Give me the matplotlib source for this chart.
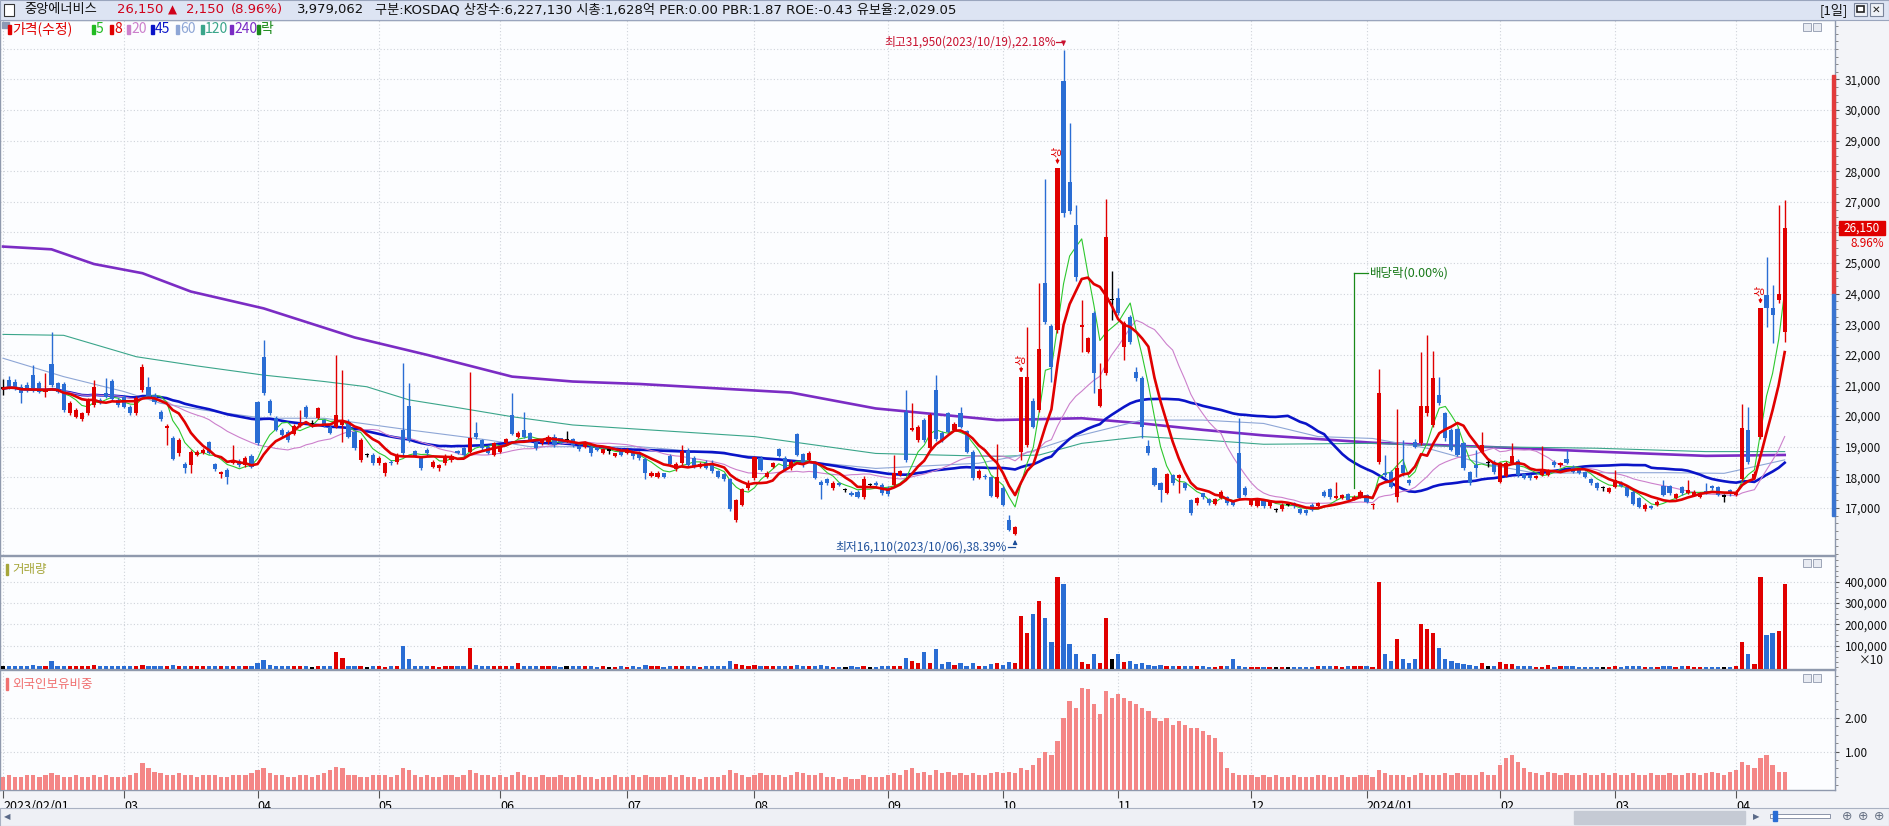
import numpy as np
import pandas as pd
import matplotlib
matplotlib.use("Agg")
import matplotlib.pyplot as plt
import matplotlib.ticker as mticker
from matplotlib.patches import Rectangle

plt.rcParams['font.family'] = ['Noto Sans CJK KR', 'DejaVu Sans']

# daily candles 2023/02/01 .. 2024/04/12
opens = [
    20900, 21180, 21120, 20960, 21020, 21340, 21070, 20800, 21700, 21070,
    21050, 20110, 19980, 19900, 20090, 20360, 20530, 20740, 21160, 20530,
    20640, 20310, 20110, 20850, 20960, 20690, 20150, 19600, 19270, 18780,
    18440, 18400, 18730, 18780, 19160, 18420, 18110, 18240, 18480, 18540,
    18400, 18700, 20470, 21940, 20490, 19930, 19550, 19490, 19420, 19700,
    20310, 19750, 19930, 19870, 19650, 19650, 19710, 19820, 19490, 18570,
    18730, 18730, 18460, 18130, 18510, 18510, 19550, 20330, 18870, 18620,
    18890, 18350, 18290, 18460, 18550, 18860, 18950, 18840, 19460, 19220,
    19000, 18730, 18840, 19130, 20040, 19330, 19550, 19440, 19160, 19110,
    19160, 19330, 19270, 19220, 19240, 19020, 19000, 19000, 19020, 18810,
    18870, 18700, 18890, 18780, 18840, 18780, 18590, 18040, 18020, 18130,
    18680, 18260, 18460, 18870, 18620, 18330, 18480, 18480, 18190, 18110,
    17930, 16600, 17100, 17640, 17970, 18620, 18020, 18350, 18910, 18620,
    18290, 19400, 18760, 18570, 18480, 17860, 17930, 17640, 17800, 17590,
    17500, 17530, 17350, 17750, 17830, 17750, 17640, 17750, 18080, 20150,
    19550, 19220, 19870, 18950, 20850, 19440, 20090, 19550, 20110, 19520,
    18840, 17970, 18040, 18000, 17370, 17640, 16600, 16150, 18840, 19060,
    20500, 20200, 24360, 22950, 22810, 30950, 27660, 26250, 22920, 22110,
    23380, 20330, 21420, 23800, 23850, 22270, 23250, 21450, 21240, 19020,
    18290, 17800, 17500, 18080, 17970, 17800, 17260, 17150, 17480, 17280,
    17130, 17310, 17370, 17200, 18780, 17640, 17100, 17060, 17260, 17060,
    16930, 16950, 17100, 17150, 16950, 16930, 17100, 17060, 17530, 17610,
    17310, 17310, 17450, 17280, 17370, 17420, 17080, 18510, 18130, 18180,
    17370, 18400, 17910, 19170, 19110, 20090, 19710, 20690, 20090, 19550,
    19570, 19110, 18180, 18400, 18840, 18460, 18510, 17860, 18040, 18480,
    18540, 18110, 18080, 17970, 18080, 18080, 18510, 18400, 18590, 18350,
    18290, 18180, 17930, 17800, 17640, 17530, 17690, 17830, 17690, 17530,
    17310, 16950, 17060, 17100, 17720, 17720, 17310, 17670, 17480, 17420,
    17370, 17560, 17720, 17670, 17370, 17590, 17420, 17930, 19550, 17980,
    19330, 23960, 23520, 23790, 22750]
highs = [
    21200, 21300, 21200, 21050, 21100, 21670, 21150, 21400, 22760, 21100,
    21100, 20500, 20250, 20150, 20600, 21180, 20600, 21230, 21200, 20600,
    20700, 20350, 20650, 21700, 21290, 20750, 20200, 19750, 19350, 19300,
    18500, 18900, 18900, 18950, 19200, 18480, 18200, 18300, 19060, 18600,
    18700, 18750, 20500, 22490, 20550, 20000, 19600, 19550, 19750, 20200,
    20350, 19870, 20300, 19900, 19700, 22000, 21510, 19900, 19550, 19300,
    18800, 18780, 18700, 18500, 18550, 18800, 21720, 21070, 18900, 18650,
    18950, 18550, 18450, 18750, 18750, 18900, 19000, 21430, 19800, 19250,
    19050, 19150, 19050, 19300, 20740, 19500, 20120, 19480, 19200, 19250,
    19380, 19400, 19300, 19500, 19300, 19050, 19200, 19050, 19050, 18950,
    18950, 18800, 18950, 18950, 18900, 18850, 18650, 18200, 18200, 18150,
    18750, 18500, 19060, 18950, 18700, 18500, 18550, 18550, 18250, 18150,
    17980, 17300, 17650, 17900, 18700, 18700, 18200, 18500, 18950, 18680,
    18550, 19450, 18800, 18850, 18530, 17900, 17980, 17880, 17850, 17650,
    17550, 17580, 18050, 17800, 17880, 17800, 17700, 18730, 18250, 20850,
    20420, 19700, 19950, 20100, 21340, 19500, 20150, 19800, 20310, 19560,
    18900, 18260, 18100, 18050, 19090, 17700, 16770, 16400, 21290, 22920,
    20600, 24340, 27740, 23000, 28100, 31950, 29570, 26900, 23800, 22600,
    23450, 21730, 27080, 24740, 24180, 23100, 23300, 21620, 21300, 19220,
    18350, 17850, 18150, 18120, 18120, 17850, 17300, 17350, 17500, 17320,
    17320, 17570, 17400, 17250, 19930, 17700, 17300, 17320, 17300, 17250,
    17000, 17150, 17180, 17200, 17000, 16980, 17150, 17200, 17580, 17650,
    17860, 17460, 17500, 17420, 17580, 17460, 17150, 21530, 18730, 18250,
    20220, 19220, 17950, 19250, 22110, 22650, 22130, 21290, 20150, 19600,
    19620, 19150, 18220, 18900, 19490, 18600, 18550, 18500, 18520, 19130,
    18600, 18150, 18100, 18080, 19020, 18260, 18550, 18500, 18890, 18400,
    18330, 18220, 17970, 17850, 17700, 17680, 18240, 17870, 17730, 17580,
    17350, 17150, 17100, 17250, 17910, 17760, 17500, 17720, 17910, 17570,
    17520, 17800, 17760, 17710, 17450, 17630, 17570, 20400, 20310, 18200,
    23540, 25210, 24280, 26900, 27050]
lows = [
    20700, 20900, 20850, 20420, 20800, 20800, 20750, 20630, 20950, 20750,
    20150, 20050, 19950, 19850, 20050, 20300, 20380, 20600, 20500, 20300,
    20250, 20050, 20050, 20800, 20600, 20400, 19850, 19060, 18550, 18700,
    18130, 18130, 18700, 18750, 18750, 18200, 17970, 17780, 18450, 18350,
    18350, 18300, 19050, 20700, 20050, 19500, 19330, 19150, 19380, 19650,
    19950, 19650, 19900, 19650, 19400, 19600, 19160, 19300, 18900, 18500,
    18650, 18400, 18400, 18050, 18400, 18450, 18700, 19150, 18650, 18250,
    18700, 18300, 18200, 18400, 18500, 18750, 18700, 18800, 19250, 18900,
    18750, 18700, 18800, 19100, 19380, 19300, 19300, 19180, 18900, 19050,
    19100, 19000, 19100, 19150, 19000, 18850, 18950, 18700, 18850, 18750,
    18750, 18650, 18700, 18750, 18600, 18580, 17930, 18000, 17980, 17980,
    18400, 18200, 18400, 18350, 18300, 18300, 18280, 18150, 17980, 17880,
    16900, 16550, 17050, 17600, 17900, 18200, 17980, 18300, 18650, 18200,
    18250, 18700, 18350, 18500, 17950, 17280, 17750, 17600, 17700, 17530,
    17380, 17330, 17300, 17680, 17700, 17430, 17400, 17700, 18050, 18500,
    19500, 19150, 19150, 18900, 19200, 19150, 19450, 19500, 19600, 18800,
    17900, 17930, 17950, 17350, 17330, 17050, 16230, 16110, 18570, 19000,
    19600, 20150, 23000, 21130, 22700, 26500, 26600, 24400, 22110, 22050,
    20740, 20300, 21350, 23140, 23300, 21830, 22350, 21150, 19270, 18730,
    17700, 17200, 17450, 17750, 17480, 17600, 16780, 17100, 17300, 17100,
    17100, 17280, 17100, 17050, 17250, 17380, 17050, 17020, 17000, 17000,
    16850, 16900, 17050, 17000, 16800, 16780, 16900, 17020, 17350, 17300,
    17280, 17280, 17220, 17250, 17330, 17150, 16950, 18450, 18000, 17650,
    17180, 18050, 17750, 18950, 19050, 20000, 19650, 20350, 19200, 18850,
    18700, 18250, 17750, 18000, 18800, 18350, 18100, 17800, 18000, 18450,
    18000, 17930, 17920, 17930, 18050, 18050, 18350, 18350, 18420, 18150,
    18100, 17980, 17750, 17600, 17550, 17500, 17650, 17680, 17350, 17080,
    17000, 16900, 16950, 17050, 17380, 17430, 17280, 17430, 17450, 17380,
    17330, 17450, 17600, 17380, 17200, 17400, 17380, 17880, 18450, 17950,
    19250, 22900, 22380, 23700, 22430]
closes = [
    20900, 20960, 20910, 20740, 20850, 20850, 20800, 20850, 21020, 20800,
    20200, 20440, 20200, 20110, 20550, 20960, 20420, 20630, 20550, 20360,
    20310, 20110, 20580, 21620, 20640, 20470, 19900, 19680, 18590, 19220,
    18290, 18840, 18820, 18890, 18780, 18260, 18160, 18000, 18570, 18400,
    18620, 18350, 19110, 20740, 20090, 19550, 19380, 19220, 19680, 19790,
    19980, 19750, 20250, 19710, 19440, 20040, 19820, 19330, 18950, 19220,
    18730, 18460, 18620, 18460, 18460, 18730, 18780, 19220, 18700, 18290,
    18780, 18510, 18400, 18680, 18700, 18780, 18730, 19270, 19310, 18950,
    18780, 19110, 19000, 19240, 19420, 19460, 19330, 19220, 18950, 19220,
    19330, 19060, 19160, 19220, 19060, 18910, 19130, 18780, 18890, 18910,
    18870, 18780, 18730, 18890, 18680, 18620, 18130, 18150, 18150, 18020,
    18440, 18440, 18870, 18400, 18370, 18440, 18320, 18220, 18020, 17930,
    16950, 17260, 17610, 17830, 18650, 18240, 18150, 18460, 18700, 18240,
    18510, 18730, 18400, 18810, 17990, 17750, 17800, 17830, 17750, 17590,
    17420, 17370, 17930, 17750, 17750, 17480, 17460, 18150, 18190, 18570,
    19600, 19660, 19220, 20040, 19240, 19220, 19490, 19740, 19630, 18840,
    17970, 18220, 18000, 17390, 18000, 17100, 16280, 16380, 21290, 21270,
    19660, 22180, 23090, 21620, 28100, 26630, 26710, 24540, 22980, 22540,
    21400, 20880, 25840, 23800, 23380, 23030, 22430, 21240, 19660, 18780,
    17750, 17590, 18110, 17800, 18080, 17640, 16820, 17310, 17350, 17150,
    17280, 17530, 17150, 17100, 17310, 17420, 17260, 17280, 17060, 17200,
    16930, 17100, 17100, 17050, 16840, 16820, 16930, 17150, 17390, 17350,
    17400, 17420, 17260, 17370, 17530, 17200, 17100, 20740, 18080, 17690,
    18290, 18130, 17800, 19000, 20330, 20330, 21230, 20420, 19270, 18890,
    18730, 18290, 17800, 18300, 19060, 18460, 18180, 18460, 18480, 18700,
    18080, 17970, 17970, 18040, 18220, 18220, 18400, 18460, 18460, 18180,
    18130, 18020, 17800, 17640, 17640, 17640, 17910, 17720, 17390, 17130,
    17040, 17100, 16990, 17200, 17420, 17480, 17460, 17480, 17590, 17530,
    17480, 17500, 17640, 17420, 17370, 17450, 17530, 19600, 18510, 18110,
    23540, 23520, 23300, 24000, 26150]

# volume in the panel's own units (axis is x10), thousands
volume_k = [
    8, 5, 6, 4, 5, 10, 5, 6, 28, 6, 8, 5, 4, 4, 6, 10, 4, 5, 8, 4,
    4, 4, 6, 12, 5, 4, 6, 5, 12, 7, 6, 8, 4, 4, 6, 5, 4, 6, 5, 4, 5, 6,
    20, 35, 10, 6, 5, 5, 4, 5, 6, 3, 5, 4, 4, 70, 45, 8, 6, 6, 3, 4,
    4, 3, 5, 4, 100, 40, 6, 5, 4, 4, 3, 5, 4, 5, 4, 90, 10, 5, 4, 4,
    5, 4, 6, 20, 6, 5, 4, 4, 5, 4, 3, 5, 4, 4, 5, 4, 3, 4, 3, 3, 4,
    3, 4, 3, 10, 4, 4, 3, 6, 4, 8, 5, 4, 3, 4, 4, 4, 5, 30, 15, 10, 6,
    12, 6, 4, 4, 6, 5, 4, 12, 6, 5, 8, 10, 4, 3, 3, 3, 4, 3, 8, 3, 3, 5,
    4, 8, 5, 45, 30, 20, 70, 20, 85, 15, 25, 10, 20, 8, 18, 6, 4, 15, 20,
    10, 25, 20, 240, 160, 250, 310, 230, 120, 420, 390, 110, 60, 25, 15, 60, 20, 230, 40,
    60, 25, 30, 15, 20, 10, 8, 10, 6, 5, 4, 5, 8, 4, 4, 3, 3, 4, 4, 40, 6, 3,
    3, 3, 3, 3, 3, 3, 3, 3, 3, 3, 3, 4, 6, 5, 4, 3, 4, 4, 5,
    4, 3, 400, 60, 30, 130, 40, 20, 40, 200, 180, 160, 90, 40, 30, 20, 15, 10, 8, 20, 6, 5,
    25, 15, 15, 8, 6, 4, 3, 3, 10, 3, 4, 6, 4, 3, 3, 3, 3, 3, 3,
    5, 3, 4, 4, 4, 3, 3, 3, 5, 4, 3, 4, 4, 3, 3, 3, 3, 3, 3, 3,
    4, 120, 60, 15, 420, 150, 160, 170, 390]

# foreign ownership ratio (%)
foreign = [
    0.25, 0.3, 0.25, 0.25, 0.3, 0.3, 0.25, 0.3, 0.35, 0.3, 0.25, 0.25, 0.3, 0.25, 0.25, 0.3, 0.25, 0.3, 0.25, 0.25,
    0.25, 0.3, 0.35, 0.65, 0.5, 0.4, 0.35, 0.3, 0.3, 0.35, 0.3, 0.3, 0.25, 0.3, 0.3, 0.3, 0.25, 0.25, 0.3, 0.3, 0.3, 0.35,
    0.45, 0.5, 0.35, 0.3, 0.3, 0.25, 0.25, 0.3, 0.3, 0.25, 0.3, 0.35, 0.45, 0.55, 0.5, 0.3, 0.3, 0.25, 0.25, 0.3,
    0.3, 0.3, 0.25, 0.3, 0.5, 0.45, 0.3, 0.25, 0.3, 0.25, 0.25, 0.3, 0.3, 0.25, 0.3, 0.45, 0.35, 0.3, 0.3, 0.25,
    0.3, 0.25, 0.3, 0.4, 0.3, 0.25, 0.25, 0.3, 0.25, 0.25, 0.3, 0.25, 0.25, 0.3, 0.25, 0.25, 0.2, 0.25, 0.25, 0.3, 0.25,
    0.25, 0.3, 0.25, 0.3, 0.25, 0.25, 0.25, 0.3, 0.25, 0.3, 0.25, 0.25, 0.2, 0.25, 0.25, 0.25, 0.3, 0.45, 0.35, 0.3, 0.25,
    0.3, 0.35, 0.3, 0.3, 0.3, 0.25, 0.3, 0.4, 0.35, 0.3, 0.3, 0.35, 0.25, 0.25, 0.2, 0.25, 0.2, 0.2, 0.3, 0.25, 0.25, 0.25,
    0.3, 0.35, 0.3, 0.45, 0.5, 0.35, 0.4, 0.3, 0.45, 0.35, 0.4, 0.3, 0.35, 0.3, 0.35, 0.3, 0.3, 0.35, 0.4,
    0.35, 0.4, 0.35, 0.5, 0.45, 0.6, 0.8, 1.0, 0.9, 1.3, 2.0, 2.5, 2.3, 2.9, 2.85, 2.4, 2.1, 2.8, 2.6,
    2.7, 2.6, 2.5, 2.4, 2.3, 2.2, 2.0, 1.9, 2.0, 1.8, 1.9, 1.8, 1.7, 1.7, 1.6, 1.5, 1.4, 1.0, 0.5, 0.35, 0.3, 0.3,
    0.3, 0.25, 0.3, 0.25, 0.3, 0.25, 0.25, 0.3, 0.25, 0.25, 0.25, 0.3, 0.3, 0.25, 0.25, 0.3, 0.25, 0.25, 0.3,
    0.3, 0.25, 0.45, 0.35, 0.3, 0.3, 0.3, 0.25, 0.3, 0.35, 0.3, 0.3, 0.3, 0.35, 0.3, 0.35, 0.3, 0.3, 0.3, 0.4, 0.3, 0.3,
    0.6, 0.8, 0.9, 0.7, 0.5, 0.4, 0.35, 0.3, 0.4, 0.35, 0.3, 0.35, 0.3, 0.3, 0.35, 0.3, 0.3, 0.35, 0.3,
    0.35, 0.3, 0.3, 0.35, 0.3, 0.3, 0.35, 0.3, 0.3, 0.35, 0.3, 0.3, 0.35, 0.35, 0.3, 0.35, 0.4, 0.35, 0.3, 0.4,
    0.45, 0.7, 0.6, 0.5, 0.8, 0.9, 0.6, 0.4, 0.4]

# slow moving averages (bar index, value)
ma60_idx = [0, 10, 20, 26, 33, 43, 53, 67, 80, 87, 105, 124, 144, 161, 167, 177, 188, 198, 208,
            217, 226, 235, 244, 253, 263, 275, 284, 294]
ma60_val = [21890, 21290, 20800, 20420, 20200, 19930, 19930, 19550, 19220, 19000, 19000, 18680,
            18290, 18460, 18680, 19330, 19870, 19870, 19760, 19330, 19270, 18950, 18460, 18130,
            18150, 18150, 18130, 18570]
ma120_idx = [0, 10, 22, 32, 43, 53, 60, 67, 74, 84, 94, 105, 124, 144, 164, 171, 178, 188, 198,
             208, 226, 238, 244, 263, 281, 294]
ma120_val = [22670, 22640, 21940, 21640, 21340, 21130, 20960, 20530, 20310, 19980, 19710, 19570,
             19330, 18780, 18680, 18730, 19110, 19330, 19220, 19080, 19110, 19020, 19000, 18950,
             18840, 18840]
ma240_idx = [0, 8, 15, 23, 31, 43, 49, 58, 70, 84, 94, 105, 130, 144, 164, 178, 188, 198, 208,
             226, 244, 263, 281, 294]
ma240_val = [25540, 25450, 24970, 24670, 24070, 23520, 23140, 22570, 22000, 21290, 21130, 21050,
             20770, 20250, 19870, 19930, 19760, 19550, 19370, 19130, 19000, 18840, 18700, 18730]

month_idx = [0, 20, 42, 62, 82, 103, 124, 146, 165, 184, 206, 225, 247, 266, 286]
month_labels = ['2023/02/01', '03', '04', '05', '06', '07', '08', '09', '10', '11', '12',
                '2024/01', '02', '03', '04']
price_ticks = [17000, 18000, 19000, 20000, 21000, 22000, 23000, 24000, 25000,
               27000, 28000, 29000, 30000, 31000]

RED = '#e00000'
BLUE = '#2a6dd4'
W, H = 1889, 826
LATIN = ['DejaVu Sans', 'Noto Sans CJK KR']

o = np.array(opens, float)
hi = np.array(highs, float)
lo = np.array(lows, float)
c = np.array(closes, float)
n = len(c)
x = np.arange(n)
col = np.where(c > o, RED, np.where(c < o, BLUE, '#000000'))
volumes = np.array(volume_k, float) * 1000

cs = pd.Series(c)
ma5 = cs.rolling(5, min_periods=1).mean()
ma8 = cs.rolling(8, min_periods=1).mean()
ma20 = cs.rolling(20, min_periods=1).mean()
ma45 = cs.rolling(45, min_periods=1).mean()

fig = plt.figure(figsize=(W / 100, H / 100), dpi=100)
fig.patch.set_facecolor('#f3f4f8')


def box(top, bottom):
    return [0, 1 - bottom / H, 1835 / W, (bottom - top) / H]


def ftext(px, py, s, **kw):
    return fig.text(px / W, 1 - py / H, s, va='center', **kw)


def frect(px, py, w, h, **kw):
    fig.patches.append(Rectangle((px / W, 1 - (py + h) / H), w / W, h / H,
                                 transform=fig.transFigure, **kw))


ax_p = fig.add_axes(box(20, 555))
ax_v = fig.add_axes(box(556, 669), sharex=ax_p)
ax_f = fig.add_axes(box(670, 790), sharex=ax_p)

grid_kw = dict(color='#cfd3da', lw=0.8, ls=(0, (1, 2)), zorder=0)
for ax in (ax_p, ax_v, ax_f):
    ax.set_facecolor('#fcfdff')
    for s in ax.spines.values():
        s.set_color('#8f99ad')
        s.set_linewidth(1)
    ax.yaxis.tick_right()
    ax.tick_params(axis='y', which='major', length=3, width=0.8, color='#555555',
                   labelsize=8.5, pad=4, labelcolor='#111111')
    ax.tick_params(axis='y', which='minor', length=2, width=0.6, color='#777777')
    ax.tick_params(axis='x', length=0, labelbottom=False)
    for m in month_idx:
        ax.axvline(m, **grid_kw)

ax_p.set_xlim(-0.5, 302.3)

# ---- price panel
ax_p.set_ylim(15461, 32944)
ax_p.set_yticks(price_ticks)
ax_p.yaxis.set_minor_locator(mticker.MultipleLocator(250))
ax_p.yaxis.set_major_formatter(mticker.FuncFormatter(lambda v, p: f'{v:,.0f}'))
for yv in np.arange(17000, 32001, 1000):
    ax_p.axhline(yv, **grid_kw)

ax_p.plot(ma240_idx, ma240_val, color='#7b2cc4', lw=1.9, zorder=3)
ax_p.plot(ma120_idx, ma120_val, color='#3aa58a', lw=0.8, zorder=3)
ax_p.plot(ma60_idx, ma60_val, color='#8ea6d6', lw=0.8, zorder=3)
ax_p.plot(x, ma45, color='#0a14c8', lw=1.9, zorder=3)
ax_p.plot(x, ma20, color='#cc80cc', lw=0.8, zorder=3)
ax_p.plot(x, ma5, color='#2ec82e', lw=0.8, zorder=3)

ax_p.vlines(x, lo, hi, colors=col, lw=1.0, zorder=4)
body_lo = np.minimum(o, c)
body_h = np.maximum(np.abs(c - o), 40)
ax_p.bar(x, body_h, bottom=body_lo, width=0.68, color=col, linewidth=0, zorder=4)
ax_p.plot(x, ma8, color='#e00000', lw=1.9, zorder=5)

# range bar on the price axis edge
rng_top, rng_mid, rng_bot = 31150, 24000, 16750
ax_p.add_patch(Rectangle((302.3 - 0.55, rng_mid), 0.5, rng_top - rng_mid, color='#e23b3b', zorder=6, clip_on=False))
ax_p.add_patch(Rectangle((302.3 - 0.55, rng_bot), 0.5, rng_mid - rng_bot, color='#3a74d0', zorder=6, clip_on=False))

# high / low / ex-dividend annotations
i_hi = int(np.argmax(hi))
i_lo = int(np.argmin(lo))
ax_p.text(i_hi - 1.3, 32230, '최고31,950(2023/10/19),22.18%', color='#c8102e', fontsize=8.5,
          ha='right', va='center', zorder=7)
ax_p.plot([i_hi - 1.2, i_hi], [32230, 32230], color='#c8102e', lw=0.9, zorder=7)
ax_p.annotate('', xy=(i_hi, hi[i_hi] + 60), xytext=(i_hi, 32230),
              arrowprops=dict(arrowstyle='-|>', color='#c8102e', lw=0.9, mutation_scale=6), zorder=7)
ax_p.text(i_lo - 1.3, 15720, '최저16,110(2023/10/06),38.39%', color='#1d4f9a', fontsize=8.5,
          ha='right', va='center', zorder=7)
ax_p.plot([i_lo - 1.2, i_lo], [15720, 15720], color='#1d4f9a', lw=0.9, zorder=7)
ax_p.annotate('', xy=(i_lo, lo[i_lo] - 60), xytext=(i_lo, 15720),
              arrowprops=dict(arrowstyle='-|>', color='#1d4f9a', lw=0.9, mutation_scale=6), zorder=7)

i_div = 223
ax_p.plot([i_div, i_div], [24680, 17650], color='#1a8a1a', lw=0.9, zorder=7)
ax_p.plot([i_div, i_div + 2.3], [24680, 24680], color='#1a8a1a', lw=0.9, zorder=7)
ax_p.text(i_div + 2.5, 24680, '배당락(0.00%)', color='#1a7a1a', fontsize=9, va='center', zorder=7)

for i_up in [168, 174, 290]:
    ax_p.text(i_up, hi[i_up] + 380, '상', color=RED, fontsize=8, rotation=90,
              ha='center', va='bottom', zorder=7)
    ax_p.annotate('', xy=(i_up, hi[i_up] + 40), xytext=(i_up, hi[i_up] + 400),
                  arrowprops=dict(arrowstyle='-|>', color=RED, lw=0.8, mutation_scale=5), zorder=7)

# current price tag
ax_p.annotate('', xy=(302.3, c[-1]), xycoords='data', xytext=(302.3 + 1.0, c[-1]),
              arrowprops=dict(arrowstyle='-|>', color=RED, lw=0, mutation_scale=9), annotation_clip=False)
frect(1839, 221, 46, 14, color='#e00000', zorder=5)
ftext(1862, 228, f'{c[-1]:,.0f}', color='white', fontsize=8.5, ha='center', zorder=6)
ftext(1884, 243, '8.96%', color='#e00000', fontsize=8.5, ha='right', zorder=6)

# ---- volume panel
vbot = -8000
ax_v.set_ylim(vbot, 520000)
ax_v.bar(x, volumes - vbot, bottom=vbot, width=0.7, color=col, linewidth=0, zorder=3)
ax_v.set_yticks([100000, 200000, 300000, 400000])
ax_v.yaxis.set_minor_locator(mticker.MultipleLocator(25000))
ax_v.yaxis.set_major_formatter(mticker.FuncFormatter(lambda v, p: f'{v:,.0f}'))
for yv in [100000, 200000, 300000, 400000]:
    ax_v.axhline(yv, **grid_kw)
ftext(1884, 661, '×10', fontsize=8.5, ha='right', color='#111111')
ax_v.add_patch(Rectangle((0.003, 0.83), 0.0016, 0.1, transform=ax_v.transAxes, color='#a6a63a'))
ax_v.text(0.0065, 0.88, '거래량', transform=ax_v.transAxes, color='#a6a63a', fontsize=9, va='center')

# ---- foreign ownership panel
fbot = -0.14
ax_f.set_ylim(fbot, 3.42)
ax_f.bar(x, np.array(foreign) - fbot, bottom=fbot, width=0.7, color='#f48686', linewidth=0, zorder=3)
ax_f.set_yticks([1.0, 2.0])
ax_f.yaxis.set_minor_locator(mticker.MultipleLocator(0.25))
ax_f.yaxis.set_major_formatter(mticker.FormatStrFormatter('%.2f'))
for yv in [1.0, 2.0]:
    ax_f.axhline(yv, **grid_kw)
ax_f.add_patch(Rectangle((0.003, 0.83), 0.0016, 0.1, transform=ax_f.transAxes, color='#f07070'))
ax_f.text(0.0065, 0.88, '외국인보유비중', transform=ax_f.transAxes, color='#f07070', fontsize=9, va='center')

ax_f.set_xticks(month_idx)
ax_f.set_xticklabels(month_labels)
ax_f.tick_params(axis='x', length=6, width=0.8, color='#555555', labelbottom=True,
                 labelsize=9, pad=1, direction='out')
for lab in ax_f.get_xticklabels():
    lab.set_ha('left')

# panel icons (top right of every panel)
for py in (23, 559, 674):
    frect(1803, py, 8, 8, facecolor='#e8ebf2', edgecolor='#8f99ad', lw=0.6, zorder=3)
    frect(1813, py, 8, 8, facecolor='#e8ebf2', edgecolor='#8f99ad', lw=0.6, zorder=3)

# ---- title bar
frect(0, 0, W, 20, facecolor='#dde4f3', edgecolor='#9aa5bd', lw=0.8, zorder=1)
frect(4, 4, 10, 12, facecolor='white', edgecolor='#333333', lw=0.8, zorder=2)
ftext(24, 10, '중앙에너비스', fontsize=9.5, color='#111111')
ftext(117, 10, '26,150', fontsize=9.5, color='#d0021b', family=LATIN)
ftext(168, 10, '▲', fontsize=8.5, color='#d0021b', family=LATIN)
ftext(186, 10, '2,150', fontsize=9.5, color='#d0021b', family=LATIN)
ftext(231, 10, '(8.96%)', fontsize=9.5, color='#d0021b', family=LATIN)
ftext(297, 10, '3,979,062', fontsize=9.5, color='#111111', family=LATIN)
ftext(375, 10, '구분:KOSDAQ 상장수:6,227,130 시총:1,628억 PER:0.00 PBR:1.87 ROE:-0.43 유보율:2,029.05',
      fontsize=9.5, color='#111111', family=LATIN)
ftext(1820, 10, '[1일]', fontsize=9.5, color='#111111')
frect(1854, 3, 13, 13, facecolor='#eef1f7', edgecolor='#7a859c', lw=0.8, zorder=2)
frect(1870, 3, 13, 13, facecolor='#eef1f7', edgecolor='#7a859c', lw=0.8, zorder=2)
frect(1857, 6, 7, 6, facecolor='white', edgecolor='#222222', lw=1.2, zorder=3)
ftext(1876.5, 10, '✕', fontsize=7.5, ha='center', color='#222222', zorder=3, family=LATIN)

# legend row
legend_items = [(8, '가격(수정)', '#e00000'), (92, '5', '#22bb22'), (110, '8', '#e00000'),
                (127, '20', '#cc80cc'), (151, '45', '#0a14c8'), (176, '60', '#8ea6d6'),
                (201, '120', '#3aa58a'), (230, '240', '#7b2cc4'), (257, '락', '#1a8a1a')]
frect(2, 22, 7, 6, color='#8c9ab5', zorder=3)
for lx, lt, lc in legend_items:
    frect(lx, 25, 3, 9, color=lc, zorder=3)
    ftext(lx + 4, 29, lt, fontsize=10, color=lc, zorder=3)

# bottom scroll bar
frect(0, 808, W, 18, facecolor='#eef0f5', edgecolor='#a9b1c2', lw=0.8, zorder=1)
ftext(4, 817, '◀', fontsize=6, color='#5a6a88', family=LATIN)
frect(1574, 811, 171, 13, color='#c5cad4', zorder=2)
ftext(1753, 817, '▶', fontsize=6, color='#5a6a88', family=LATIN)
frect(1770, 814, 60, 4, facecolor='white', edgecolor='#7a859c', lw=0.6, zorder=2)
frect(1773, 811, 4, 10, color='#2a6dd4', zorder=3)
for zx in (1842, 1858, 1874):
    ftext(zx, 817, '⊕', fontsize=9, color='#6a7486', family=LATIN)

fig.savefig('out.png', dpi=100, facecolor=fig.get_facecolor())
